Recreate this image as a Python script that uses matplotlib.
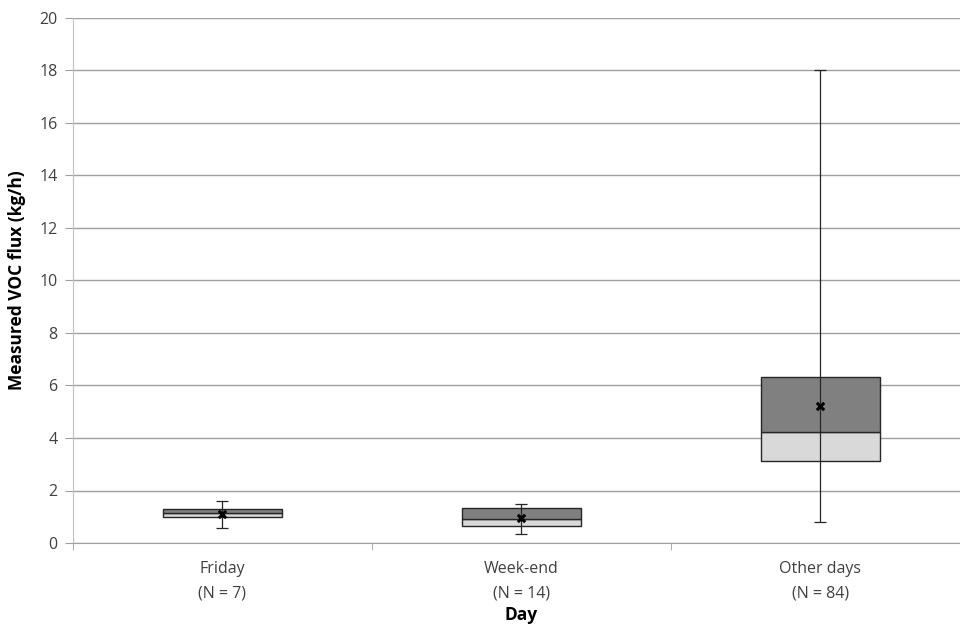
import numpy as np
import matplotlib
matplotlib.use('Agg')
import matplotlib.pyplot as plt

plt.rcParams['font.family'] = ['Open Sans', 'DejaVu Sans']

# box statistics (kg/h)
days = ['Friday\n(N = 7)', 'Week-end\n(N = 14)', 'Other days\n(N = 84)']
q1 = [0.98, 0.64, 3.11]
median = [1.13, 0.90, 4.23]
q3 = [1.28, 1.32, 6.34]
whisk_lo = [0.57, 0.34, 0.79]
whisk_hi = [1.60, 1.47, 18.0]
mean = [1.12, 0.94, 5.23]

fig = plt.figure(figsize=(9.6, 6.3), dpi=100)
ax = fig.add_axes([73 / 960, 87 / 630, 897 / 960, 525 / 630])

x = np.arange(len(days))
q1 = np.array(q1); median = np.array(median); q3 = np.array(q3)

# whiskers behind the boxes
ax.errorbar(x, median, yerr=[median - np.array(whisk_lo), np.array(whisk_hi) - median],
            fmt='none', ecolor='#262626', elinewidth=0.9, capsize=4, capthick=0.9, zorder=2)
ax.bar(x, median - q1, bottom=q1, width=0.4, color='#d9d9d9', edgecolor='#262626',
       linewidth=1.0, zorder=3)
ax.bar(x, q3 - median, bottom=median, width=0.4, color='#808080', edgecolor='#262626',
       linewidth=1.0, zorder=3)
# whisker line through boxes
ax.vlines(x, q1, q3, color='#262626', linewidth=0.9, zorder=4)
ax.scatter(x, mean, marker='x', s=28, color='black', linewidths=2.2, zorder=5)

ax.set_ylim(0, 20)
ax.set_xlim(-0.5, 2.5)
ax.set_yticks(np.arange(0, 21, 2))
ax.set_xticks(x)
ax.set_xticklabels(days, fontsize=11.5, color='#404040', linespacing=1.7)
ax.set_xticks([-0.5, 0.5, 1.5, 2.5], minor=True)
ax.tick_params(axis='x', which='major', length=0, pad=13)
ax.tick_params(axis='x', which='minor', length=5, color='#a0a0a0')
ax.tick_params(axis='y', length=6, color='#a0a0a0', labelsize=11.5, labelcolor='#404040', pad=5)
ax.grid(axis='y', color='#a0a0a0', linewidth=1.0)
ax.set_axisbelow(True)
for s in ['top', 'right']:
    ax.spines[s].set_visible(False)
ax.spines['left'].set_color('#c0c0c0')
ax.spines['bottom'].set_color('#a0a0a0')

ax.set_ylabel('Measured VOC flux (kg/h)', fontsize=12.5, fontweight='bold', labelpad=10)
ax.set_xlabel('Day', fontsize=12.5, fontweight='bold', labelpad=3)

plt.savefig('out.png', dpi=100)
plt.close()
